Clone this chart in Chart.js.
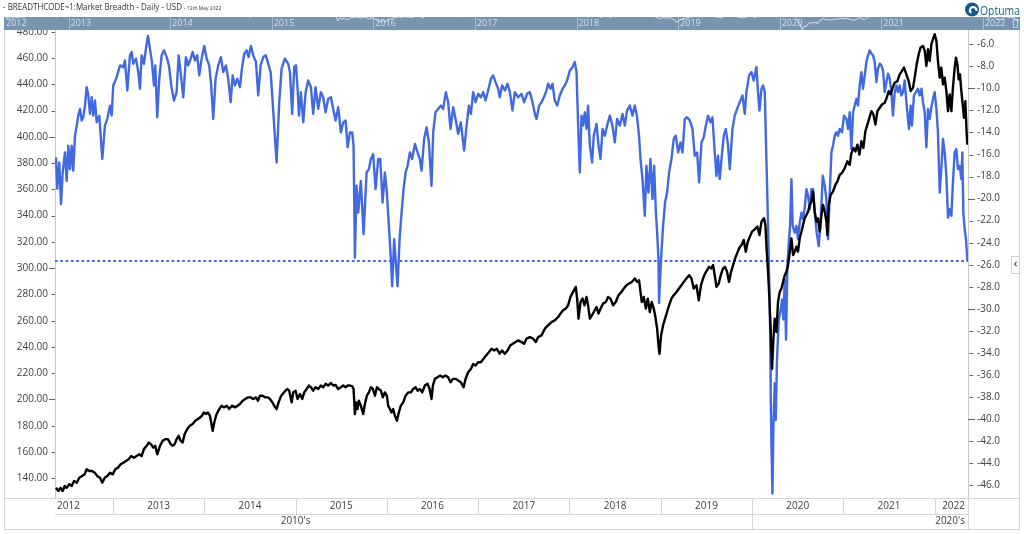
<!DOCTYPE html>
<html>
<head>
<meta charset="utf-8">
<title>Market Breadth</title>
<script src="https://cdn.jsdelivr.net/npm/chart.js@4.4.1/dist/chart.umd.min.js"></script>
<style>
  html, body { margin: 0; padding: 0; background: #fff; }
  body { width: 1024px; height: 534px; position: relative; overflow: hidden; }
  #mainChart { position: absolute; left: 0; top: 0; }
  #navChart { position: absolute; left: 4px; top: 17px; }
</style>
</head>
<body>
<canvas id="mainChart" width="1024" height="534"></canvas>
<canvas id="navChart" width="1016" height="13"></canvas>
<script>
// data (dates as decimal years)
const blueDates = [
  2012.376, 2012.390, 2012.412, 2012.431, 2012.449, 2012.474, 2012.493, 2012.511, 2012.529, 2012.548,
  2012.565, 2012.584, 2012.603, 2012.620, 2012.639, 2012.657, 2012.675, 2012.693, 2012.712, 2012.730,
  2012.748, 2012.767, 2012.784, 2012.803, 2012.822, 2012.850, 2012.883, 2012.912, 2012.938, 2012.967,
  2012.986, 2013.003, 2013.041, 2013.077, 2013.113, 2013.131, 2013.157, 2013.186, 2013.205, 2013.222,
  2013.252, 2013.277, 2013.296, 2013.314, 2013.339, 2013.361, 2013.383, 2013.405, 2013.427, 2013.449,
  2013.463, 2013.485, 2013.507, 2013.533, 2013.558, 2013.588, 2013.613, 2013.638, 2013.668, 2013.697,
  2013.719, 2013.741, 2013.770, 2013.799, 2013.824, 2013.851, 2013.873, 2013.898, 2013.923, 2013.945,
  2013.971, 2014.000, 2014.026, 2014.054, 2014.076, 2014.098, 2014.124, 2014.153, 2014.182, 2014.208,
  2014.237, 2014.262, 2014.289, 2014.311, 2014.336, 2014.361, 2014.391, 2014.412, 2014.438, 2014.464,
  2014.486, 2014.511, 2014.536, 2014.566, 2014.591, 2014.617, 2014.646, 2014.675, 2014.700, 2014.727,
  2014.749, 2014.792, 2014.821, 2014.847, 2014.883, 2014.919, 2014.938, 2014.963, 2014.985, 2015.004,
  2015.022, 2015.037, 2015.058, 2015.084, 2015.110, 2015.138, 2015.168, 2015.193, 2015.219, 2015.248,
  2015.277, 2015.303, 2015.329, 2015.357, 2015.387, 2015.412, 2015.438, 2015.467, 2015.496, 2015.522,
  2015.548, 2015.570, 2015.595, 2015.620, 2015.635, 2015.650, 2015.668, 2015.686, 2015.715, 2015.745,
  2015.778, 2015.803, 2015.825, 2015.850, 2015.876, 2015.905, 2015.927, 2015.953, 2015.978, 2016.000,
  2016.022, 2016.044, 2016.058, 2016.080, 2016.095, 2016.117, 2016.139, 2016.161, 2016.183, 2016.205,
  2016.227, 2016.252, 2016.277, 2016.307, 2016.336, 2016.361, 2016.380, 2016.408, 2016.435, 2016.460,
  2016.489, 2016.507, 2016.533, 2016.562, 2016.591, 2016.616, 2016.646, 2016.671, 2016.697, 2016.726,
  2016.752, 2016.781, 2016.810, 2016.846, 2016.873, 2016.898, 2016.920, 2016.945, 2016.971, 2017.000,
  2017.029, 2017.054, 2017.081, 2017.109, 2017.139, 2017.164, 2017.190, 2017.219, 2017.237, 2017.262,
  2017.292, 2017.322, 2017.347, 2017.376, 2017.401, 2017.438, 2017.475, 2017.503, 2017.536, 2017.566,
  2017.595, 2017.621, 2017.639, 2017.668, 2017.694, 2017.719, 2017.749, 2017.766, 2017.792, 2017.814,
  2017.839, 2017.865, 2017.894, 2017.924, 2017.949, 2017.974, 2018.004, 2018.033, 2018.058, 2018.077,
  2018.095, 2018.113, 2018.132, 2018.149, 2018.168, 2018.187, 2018.204, 2018.223, 2018.248, 2018.266,
  2018.296, 2018.318, 2018.340, 2018.362, 2018.387, 2018.412, 2018.442, 2018.471, 2018.496, 2018.522,
  2018.551, 2018.581, 2018.606, 2018.631, 2018.661, 2018.690, 2018.715, 2018.741, 2018.762, 2018.778,
  2018.800, 2018.825, 2018.843, 2018.865, 2018.887, 2018.909, 2018.927, 2018.945, 2018.960, 2018.975,
  2018.981, 2019.003, 2019.025, 2019.047, 2019.069, 2019.091, 2019.117, 2019.142, 2019.164, 2019.190,
  2019.216, 2019.238, 2019.263, 2019.288, 2019.318, 2019.347, 2019.372, 2019.398, 2019.420, 2019.446,
  2019.471, 2019.493, 2019.518, 2019.544, 2019.566, 2019.591, 2019.610, 2019.627, 2019.646, 2019.665,
  2019.690, 2019.712, 2019.737, 2019.756, 2019.785, 2019.810, 2019.836, 2019.865, 2019.895, 2019.920,
  2019.938, 2019.967, 2019.993, 2020.018, 2020.048, 2020.065, 2020.081, 2020.103, 2020.120, 2020.139,
  2020.157, 2020.168, 2020.183, 2020.197, 2020.204, 2020.212, 2020.223, 2020.234, 2020.248, 2020.259,
  2020.273, 2020.292, 2020.314, 2020.328, 2020.343, 2020.358, 2020.372, 2020.387, 2020.402, 2020.416,
  2020.431, 2020.445, 2020.467, 2020.486, 2020.503, 2020.522, 2020.541, 2020.558, 2020.577, 2020.595,
  2020.613, 2020.632, 2020.650, 2020.668, 2020.686, 2020.708, 2020.730, 2020.752, 2020.774, 2020.796,
  2020.814, 2020.832, 2020.851, 2020.869, 2020.886, 2020.905, 2020.924, 2020.941, 2020.960, 2020.985,
  2021.007, 2021.033, 2021.051, 2021.069, 2021.088, 2021.106, 2021.124, 2021.143, 2021.160, 2021.179,
  2021.197, 2021.215, 2021.234, 2021.252, 2021.270, 2021.288, 2021.307, 2021.325, 2021.343, 2021.362,
  2021.379, 2021.398, 2021.416, 2021.434, 2021.453, 2021.471, 2021.489, 2021.507, 2021.526, 2021.543,
  2021.562, 2021.581, 2021.598, 2021.617, 2021.635, 2021.653, 2021.672, 2021.690, 2021.708, 2021.719,
  2021.737, 2021.751, 2021.773, 2021.795, 2021.817, 2021.836, 2021.855, 2021.872, 2021.891, 2021.909,
  2021.927, 2021.945, 2021.964, 2021.982, 2022.000, 2022.019, 2022.036, 2022.055, 2022.073, 2022.091,
  2022.110, 2022.128, 2022.146, 2022.164, 2022.183, 2022.200, 2022.219, 2022.237, 2022.255, 2022.274,
  2022.292, 2022.303, 2022.314, 2022.329, 2022.343, 2022.358
];
const blueValues = [
  -16.26, -19.11, -16.72, -20.51, -17.63, -15.81, -18.39, -15.20, -17.32, -15.20,
  -17.47, -14.29, -13.38, -12.47, -11.86, -12.92, -12.62, -11.56, -9.89, -10.64,
  -12.31, -10.80, -12.47, -11.10, -13.08, -12.47, -16.41, -13.38, -12.77, -11.56,
  -12.47, -9.73, -8.98, -7.91, -8.07, -7.46, -10.19, -7.00, -6.70, -7.76,
  -7.30, -8.52, -10.03, -7.00, -7.76, -6.39, -5.24, -6.39, -7.61, -9.73,
  -7.91, -12.62, -9.12, -7.00, -6.55, -7.16, -7.91, -9.73, -11.10, -10.34,
  -7.00, -8.52, -10.80, -7.16, -7.91, -7.30, -6.70, -7.46, -7.00, -8.82,
  -7.30, -6.15, -7.30, -7.91, -9.73, -12.77, -9.12, -7.91, -7.16, -8.52,
  -7.91, -9.12, -11.25, -8.82, -9.73, -9.12, -9.89, -8.21, -6.85, -6.55,
  -7.16, -6.15, -7.00, -7.61, -10.64, -7.91, -7.16, -7.00, -7.76, -8.52,
  -11.25, -16.72, -11.25, -8.21, -7.30, -7.76, -8.52, -12.31, -8.07, -7.91,
  -10.03, -12.47, -10.34, -13.08, -10.34, -9.28, -9.89, -12.31, -9.89, -11.86,
  -10.34, -10.80, -12.17, -10.95, -10.80, -11.86, -12.92, -11.71, -13.99, -13.08,
  -12.92, -15.35, -13.99, -13.99, -15.20, -25.37, -18.84, -21.27, -18.39, -23.24,
  -17.63, -17.32, -16.41, -15.95, -19.14, -16.41, -16.41, -20.36, -17.63, -19.45,
  -22.48, -25.52, -27.95, -23.69, -25.52, -27.95, -23.69, -21.27, -19.14, -17.63,
  -17.02, -15.81, -16.41, -15.04, -15.81, -16.41, -17.47, -14.59, -13.53, -14.90,
  -18.84, -13.99, -12.17, -11.86, -11.56, -11.86, -10.34, -11.25, -13.68, -11.71,
  -12.77, -14.13, -13.08, -15.65, -13.38, -11.56, -12.31, -10.34, -11.25, -10.49,
  -10.80, -10.34, -11.10, -10.19, -9.12, -8.82, -9.43, -10.03, -10.80, -9.73,
  -10.19, -9.58, -10.34, -12.01, -10.34, -10.80, -10.49, -11.25, -10.49, -10.34,
  -11.25, -12.31, -12.77, -11.56, -11.25, -10.80, -10.19, -9.58, -10.03, -9.58,
  -11.10, -11.56, -10.64, -10.03, -9.73, -9.28, -8.37, -8.07, -7.61, -8.52,
  -13.38, -17.63, -12.47, -13.38, -12.17, -13.68, -11.56, -15.20, -16.72, -14.29,
  -13.22, -15.20, -16.41, -13.68, -14.29, -13.38, -12.47, -13.38, -14.90, -12.77,
  -13.38, -12.31, -13.38, -12.01, -11.56, -12.47, -11.56, -12.62, -14.29, -16.41,
  -18.23, -21.57, -17.02, -19.45, -16.41, -20.05, -17.02, -20.96, -23.09, -25.52,
  -29.47, -25.52, -22.48, -20.36, -19.45, -17.63, -16.41, -14.59, -14.29, -15.81,
  -14.90, -15.81, -12.77, -12.62, -12.92, -13.68, -16.11, -15.81, -18.54, -14.90,
  -14.44, -13.38, -12.47, -13.08, -12.62, -15.81, -17.93, -16.11, -18.23, -16.41,
  -14.29, -13.68, -15.20, -17.32, -13.68, -12.47, -11.86, -11.25, -10.64, -12.31,
  -10.34, -8.82, -8.52, -9.28, -8.07, -10.34, -12.01, -10.03, -9.73, -10.34,
  -16.41, -20.05, -25.52, -31.59, -37.66, -42.22, -46.77, -40.70, -36.75, -40.09,
  -34.62, -30.98, -30.07, -29.16, -30.98, -27.34, -32.80, -26.13, -24.00, -22.48,
  -18.23, -22.48, -23.09, -22.48, -23.69, -22.18, -21.27, -21.87, -20.82, -19.14,
  -19.75, -20.96, -19.14, -19.14, -21.27, -23.09, -24.31, -21.87, -17.93, -18.84,
  -20.05, -23.69, -19.45, -15.81, -15.20, -14.29, -13.99, -14.29, -13.68, -13.99,
  -12.47, -12.77, -13.68, -12.17, -15.50, -12.17, -11.56, -10.95, -11.56, -9.73,
  -8.52, -10.03, -8.82, -7.61, -7.00, -6.55, -6.85, -7.00, -7.61, -9.43,
  -8.21, -7.76, -7.91, -8.37, -10.34, -9.43, -8.67, -9.12, -10.34, -12.47,
  -10.34, -9.73, -10.34, -9.73, -10.64, -10.34, -9.28, -11.25, -12.77, -13.68,
  -11.56, -13.38, -10.64, -10.34, -10.03, -10.64, -10.03, -11.25, -12.17, -15.35,
  -11.86, -12.77, -11.71, -10.95, -10.34, -11.86, -13.99, -19.45, -17.32, -14.59,
  -15.81, -17.93, -21.73, -20.96, -21.57, -18.54, -15.81, -15.50, -17.32, -17.02,
  -18.23, -15.81, -21.27, -22.78, -23.69, -25.67
];
const blackDates = [
  2012.376, 2012.401, 2012.427, 2012.449, 2012.471, 2012.493, 2012.522, 2012.548, 2012.573, 2012.603,
  2012.631, 2012.661, 2012.690, 2012.712, 2012.741, 2012.770, 2012.800, 2012.828, 2012.858, 2012.883,
  2012.909, 2012.938, 2012.967, 2012.997, 2013.025, 2013.055, 2013.084, 2013.113, 2013.142, 2013.172,
  2013.200, 2013.230, 2013.259, 2013.288, 2013.314, 2013.339, 2013.369, 2013.391, 2013.416, 2013.441,
  2013.463, 2013.485, 2013.515, 2013.544, 2013.573, 2013.602, 2013.632, 2013.654, 2013.676, 2013.697,
  2013.719, 2013.741, 2013.763, 2013.785, 2013.814, 2013.843, 2013.873, 2013.901, 2013.931, 2013.953,
  2013.974, 2013.996, 2014.018, 2014.040, 2014.062, 2014.092, 2014.114, 2014.135, 2014.164, 2014.190,
  2014.215, 2014.245, 2014.273, 2014.303, 2014.336, 2014.365, 2014.391, 2014.420, 2014.449, 2014.478,
  2014.508, 2014.536, 2014.566, 2014.588, 2014.610, 2014.639, 2014.668, 2014.697, 2014.719, 2014.746,
  2014.777, 2014.792, 2014.814, 2014.843, 2014.872, 2014.908, 2014.930, 2014.957, 2014.974, 2015.000,
  2015.022, 2015.048, 2015.073, 2015.095, 2015.121, 2015.146, 2015.168, 2015.193, 2015.219, 2015.248,
  2015.277, 2015.303, 2015.329, 2015.357, 2015.387, 2015.412, 2015.438, 2015.467, 2015.496, 2015.522,
  2015.548, 2015.570, 2015.595, 2015.620, 2015.635, 2015.650, 2015.664, 2015.679, 2015.693, 2015.715,
  2015.741, 2015.759, 2015.781, 2015.803, 2015.825, 2015.847, 2015.869, 2015.891, 2015.912, 2015.934,
  2015.956, 2015.978, 2016.000, 2016.014, 2016.033, 2016.051, 2016.069, 2016.088, 2016.110, 2016.131,
  2016.153, 2016.179, 2016.205, 2016.233, 2016.263, 2016.288, 2016.314, 2016.336, 2016.361, 2016.387,
  2016.416, 2016.446, 2016.468, 2016.489, 2016.504, 2016.526, 2016.555, 2016.584, 2016.613, 2016.643,
  2016.671, 2016.697, 2016.723, 2016.752, 2016.781, 2016.810, 2016.840, 2016.862, 2016.890, 2016.920,
  2016.945, 2016.971, 2017.000, 2017.029, 2017.059, 2017.087, 2017.117, 2017.146, 2017.175, 2017.204,
  2017.234, 2017.262, 2017.292, 2017.322, 2017.350, 2017.380, 2017.409, 2017.438, 2017.475, 2017.503,
  2017.529, 2017.566, 2017.602, 2017.631, 2017.657, 2017.694, 2017.730, 2017.766, 2017.803, 2017.839,
  2017.876, 2017.902, 2017.930, 2017.960, 2017.985, 2018.011, 2018.040, 2018.069, 2018.084, 2018.099,
  2018.121, 2018.143, 2018.165, 2018.187, 2018.204, 2018.223, 2018.245, 2018.266, 2018.296, 2018.318,
  2018.340, 2018.368, 2018.398, 2018.423, 2018.449, 2018.478, 2018.507, 2018.537, 2018.570, 2018.595,
  2018.624, 2018.653, 2018.683, 2018.715, 2018.741, 2018.762, 2018.778, 2018.792, 2018.814, 2018.836,
  2018.858, 2018.880, 2018.901, 2018.923, 2018.938, 2018.960, 2018.975, 2018.986, 2019.003, 2019.025,
  2019.047, 2019.069, 2019.091, 2019.117, 2019.142, 2019.172, 2019.200, 2019.226, 2019.251, 2019.281,
  2019.310, 2019.336, 2019.361, 2019.391, 2019.416, 2019.441, 2019.463, 2019.485, 2019.507, 2019.529,
  2019.551, 2019.573, 2019.591, 2019.610, 2019.635, 2019.657, 2019.682, 2019.704, 2019.726, 2019.748,
  2019.770, 2019.792, 2019.814, 2019.836, 2019.858, 2019.884, 2019.909, 2019.931, 2019.953, 2019.975,
  2020.000, 2020.022, 2020.059, 2020.081, 2020.103, 2020.131, 2020.146, 2020.161, 2020.175, 2020.190,
  2020.204, 2020.219, 2020.234, 2020.248, 2020.267, 2020.284, 2020.303, 2020.322, 2020.339, 2020.358,
  2020.376, 2020.394, 2020.413, 2020.431, 2020.449, 2020.467, 2020.486, 2020.503, 2020.522, 2020.541,
  2020.558, 2020.577, 2020.595, 2020.613, 2020.632, 2020.650, 2020.668, 2020.686, 2020.705, 2020.722,
  2020.741, 2020.760, 2020.777, 2020.796, 2020.814, 2020.825, 2020.840, 2020.861, 2020.886, 2020.913,
  2020.935, 2020.960, 2020.985, 2021.015, 2021.044, 2021.069, 2021.088, 2021.110, 2021.132, 2021.154,
  2021.176, 2021.197, 2021.219, 2021.241, 2021.263, 2021.285, 2021.307, 2021.329, 2021.351, 2021.373,
  2021.398, 2021.423, 2021.453, 2021.475, 2021.497, 2021.518, 2021.540, 2021.562, 2021.592, 2021.617,
  2021.642, 2021.664, 2021.690, 2021.715, 2021.737, 2021.763, 2021.781, 2021.803, 2021.825, 2021.846,
  2021.872, 2021.891, 2021.909, 2021.927, 2021.945, 2021.964, 2021.982, 2022.000, 2022.019, 2022.036,
  2022.055, 2022.073, 2022.091, 2022.110, 2022.128, 2022.146, 2022.164, 2022.183, 2022.200, 2022.219,
  2022.233, 2022.249, 2022.263, 2022.277, 2022.292, 2022.307, 2022.321, 2022.336, 2022.351, 2022.358
];
const blackValues = [
  132.8, 130.3, 132.8, 130.3, 134.1, 132.8, 135.4, 134.1, 137.9, 136.6,
  140.4, 141.7, 143.0, 146.9, 145.6, 145.6, 144.3, 141.7, 140.4, 136.6,
  140.4, 141.7, 144.3, 143.0, 146.9, 148.1, 150.7, 151.9, 153.2, 154.5,
  157.0, 155.7, 157.0, 158.3, 157.0, 162.2, 164.7, 167.2, 166.0, 163.4,
  164.7, 158.3, 164.7, 168.5, 169.8, 169.8, 166.0, 164.7, 166.0, 169.8,
  172.3, 168.5, 167.2, 173.6, 177.5, 180.0, 181.3, 183.8, 185.1, 186.3,
  187.6, 190.1, 188.9, 190.1, 187.6, 176.2, 183.8, 188.9, 192.7, 195.3,
  194.0, 195.3, 192.7, 195.3, 194.0, 195.3, 196.6, 199.1, 200.4, 201.6,
  201.6, 200.4, 201.6, 199.1, 202.9, 202.9, 201.6, 201.6, 200.4, 197.8,
  194.0, 192.7, 197.8, 202.9, 205.4, 208.0, 206.7, 197.8, 205.4, 206.7,
  200.4, 204.2, 200.4, 205.4, 208.0, 210.6, 209.3, 206.7, 209.3, 208.0,
  210.6, 209.3, 211.9, 210.6, 212.6, 210.6, 211.1, 208.0, 209.3, 210.6,
  209.3, 210.6, 210.6, 210.1, 208.0, 188.9, 197.8, 192.7, 199.1, 195.3,
  188.9, 196.6, 202.9, 205.4, 209.3, 208.0, 202.9, 209.3, 208.0, 206.7,
  201.6, 205.4, 202.9, 195.3, 192.7, 190.1, 192.7, 187.6, 183.8, 190.1,
  195.3, 197.8, 202.9, 205.4, 205.4, 208.0, 209.3, 206.7, 208.0, 205.4,
  210.6, 211.9, 208.0, 200.4, 210.6, 215.7, 216.9, 218.2, 216.9, 218.2,
  216.9, 213.1, 215.7, 215.7, 214.4, 213.1, 209.3, 215.7, 220.7, 223.3,
  227.1, 225.8, 228.4, 228.4, 231.0, 233.5, 236.0, 238.6, 237.3, 238.6,
  234.8, 237.3, 234.8, 237.3, 241.1, 242.4, 243.7, 245.0, 243.7, 242.4,
  246.3, 247.5, 246.3, 243.7, 247.5, 248.8, 253.9, 256.4, 258.9, 260.2,
  262.8, 265.4, 267.9, 269.2, 271.7, 278.1, 281.9, 285.7, 276.8, 261.5,
  274.2, 276.8, 271.7, 278.1, 271.7, 261.5, 264.1, 266.6, 270.4, 265.4,
  269.2, 273.0, 274.2, 278.1, 276.8, 271.7, 274.2, 279.4, 281.9, 284.5,
  287.0, 288.3, 289.5, 292.1, 289.5, 290.8, 281.9, 274.2, 278.1, 269.2,
  276.8, 266.6, 274.2, 269.2, 264.1, 253.9, 241.1, 234.8, 248.8, 256.4,
  261.5, 266.6, 271.7, 276.8, 279.4, 281.9, 284.5, 287.0, 289.5, 292.1,
  294.6, 292.1, 284.5, 287.0, 275.5, 287.0, 292.1, 295.9, 298.5, 301.0,
  299.8, 302.3, 294.6, 285.7, 288.3, 294.6, 299.8, 301.0, 297.2, 289.5,
  297.2, 302.3, 307.4, 311.2, 315.1, 317.6, 321.4, 312.5, 320.1, 323.9,
  327.8, 329.1, 331.6, 325.2, 335.4, 338.0, 332.9, 312.5, 297.2, 276.8,
  251.3, 223.3, 246.3, 261.5, 251.3, 274.2, 281.9, 284.5, 289.5, 294.6,
  297.2, 302.3, 312.5, 322.7, 309.9, 312.5, 316.3, 312.5, 322.7, 327.8,
  332.9, 338.0, 340.5, 343.0, 348.2, 350.7, 358.3, 343.0, 335.4, 338.0,
  327.8, 340.5, 348.2, 343.0, 335.4, 325.2, 348.2, 355.8, 358.3, 363.5,
  366.0, 371.1, 372.4, 376.2, 381.3, 378.7, 387.7, 391.5, 388.9, 394.0,
  386.4, 396.6, 391.5, 404.2, 409.3, 414.4, 419.5, 417.0, 409.3, 419.5,
  422.1, 424.6, 425.9, 429.7, 434.8, 432.3, 437.4, 441.2, 442.4, 447.5,
  450.1, 452.7, 447.5, 442.4, 434.8, 437.4, 445.0, 455.2, 462.8, 468.0,
  469.2, 465.4, 453.9, 466.7, 457.7, 470.5, 474.3, 478.1, 473.0, 457.7,
  445.0, 452.7, 439.9, 445.0, 434.8, 419.5, 432.3, 419.5, 437.4, 452.7,
  460.3, 455.2, 443.7, 447.5, 434.8, 424.6, 414.4, 427.1, 401.7, 394.0
];
const leftTicks = [140, 160, 180, 200, 220, 240, 260, 280, 300, 320, 340, 360, 380, 400, 420, 440, 460, 480];
const rightTicks = [-46, -44, -42, -40, -38, -36, -34, -32, -30, -28, -26, -24, -22, -20, -18, -16, -14, -12, -10, -8, -6];
const yearLabels = ['2012', '2013', '2014', '2015', '2016', '2017', '2018', '2019', '2020', '2021', '2022'];
const decadeLabels = ["2010's", "2020's"];

const xMin = 2012.365;
const xMax = 2022.365;

function toPoints(dates, values) {
    return dates.map((d, i) => ({ x: d, y: values[i] }));
}

function init() {
    const FONT = '"Open Sans", "DejaVu Sans", sans-serif';
    const lastBlue = blueValues[blueValues.length - 1];

    // frame, header, date band, tick marks
    const framePlugin = {
        id: 'frame',
        afterDraw(chart) {
            const ctx = chart.ctx;
            const area = chart.chartArea;
            const xs = chart.scales.x;
            const hline = (x1, x2, y) => { ctx.beginPath(); ctx.moveTo(x1, y); ctx.lineTo(x2, y); ctx.stroke(); };
            const vline = (x, y1, y2) => { ctx.beginPath(); ctx.moveTo(x, y1); ctx.lineTo(x, y2); ctx.stroke(); };
            ctx.save();

            // header
            ctx.fillStyle = '#333333';
            ctx.textAlign = 'left';
            ctx.textBaseline = 'alphabetic';
            ctx.font = '9px ' + FONT;
            ctx.fillText('- BREADTHCODE~1:Market Breadth - Daily - USD', 3, 10, 179);
            ctx.font = '5px ' + FONT;
            ctx.fillText('- 12th May 2022', 184, 10, 50);

            // logo
            ctx.fillStyle = '#14578a';
            ctx.beginPath(); ctx.arc(972, 9.5, 7, 0, Math.PI * 2); ctx.fill();
            ctx.strokeStyle = '#ffffff';
            ctx.lineWidth = 2.2;
            ctx.beginPath(); ctx.arc(973.2, 10.3, 3.3, Math.PI * 0.7, Math.PI * 2.05); ctx.stroke();
            ctx.fillStyle = '#1c5f90';
            ctx.font = '13px ' + FONT;
            ctx.fillText('Optuma', 980, 14.5, 40);

            // outer frame and date rows
            ctx.strokeStyle = '#d6d6d6';
            ctx.lineWidth = 1;
            const rowTop = area.bottom;
            const rowMid = area.bottom + 16;
            const rowEnd = 529;
            hline(4, 1020, rowTop + 0.5);
            hline(area.left, area.right, rowMid + 0.5);
            hline(4, 1020, rowEnd + 0.5);
            vline(4.5, 17, rowEnd);
            vline(1019.5, 17, rowEnd);
            vline(Math.round(area.right) + 0.5, rowTop, rowEnd);

            ctx.fillStyle = '#404040';
            ctx.font = '10px ' + FONT;
            ctx.textAlign = 'center';
            ctx.textBaseline = 'middle';
            yearLabels.forEach(label => {
                const yr = Number(label);
                const px = xs.getPixelForValue(yr);
                if (px > area.left && px < area.right) vline(Math.round(px) + 0.5, rowTop, rowMid);
                const w = ctx.measureText(label).width;
                let cx = xs.getPixelForValue(yr + 0.5);
                cx = Math.max(area.left + w / 2 + 2, Math.min(area.right - w / 2 - 3, cx));
                ctx.fillText(label, cx, rowTop + 8.5);
            });
            decadeLabels.forEach(label => {
                const start = Number(label.slice(0, 4));
                const px = xs.getPixelForValue(start);
                if (px > area.left && px < area.right) vline(Math.round(px) + 0.5, rowMid, rowEnd);
                const w = ctx.measureText(label).width;
                let cx = xs.getPixelForValue(start + 5);
                cx = Math.max(area.left + w / 2 + 2, Math.min(area.right - w / 2 - 3, cx));
                ctx.fillText(label, cx, rowMid + 7.5);
            });

            // axis tick marks
            ctx.strokeStyle = '#666666';
            const ly = chart.scales.y;
            ly.ticks.forEach(t => {
                const py = Math.round(ly.getPixelForValue(t.value)) + 0.5;
                hline(t.value % 100 === 0 ? area.left - 6 : area.left - 3.5, area.left, py);
            });
            const ry = chart.scales.y1;
            ry.ticks.forEach(t => {
                const py = Math.round(ry.getPixelForValue(t.value)) + 0.5;
                if (t.value % 10 === 0) hline(area.right, area.right + 7, py);
                else hline(area.right + 1.5, area.right + 5, py);
            });

            // side handle
            ctx.fillStyle = '#ffffff';
            ctx.strokeStyle = '#cfcfcf';
            ctx.fillRect(1011, 256, 8, 17);
            ctx.strokeRect(1011.5, 256.5, 8, 17);
            ctx.fillStyle = '#555555';
            ctx.font = 'bold 10px ' + FONT;
            ctx.fillText('\u2039', 1015.5, 264);
            ctx.restore();
        }
    };

    // main chart
    new Chart(document.getElementById('mainChart').getContext('2d'), {
        type: 'line',
        data: {
            datasets: [
                {
                    label: 'Index',
                    data: toPoints(blackDates, blackValues),
                    yAxisID: 'y',
                    borderColor: '#000000',
                    borderWidth: 2.4,
                    borderJoinStyle: 'round'
                },
                {
                    label: 'Market Breadth',
                    data: toPoints(blueDates, blueValues),
                    yAxisID: 'y1',
                    borderColor: '#4169e1',
                    borderWidth: 2.4,
                    borderJoinStyle: 'round'
                },
                {
                    label: 'Last',
                    data: [{ x: xMin, y: lastBlue }, { x: xMax, y: lastBlue }],
                    yAxisID: 'y1',
                    borderColor: '#4169e1',
                    borderWidth: 2,
                    borderDash: [2.7, 2.6]
                }
            ]
        },
        options: {
            responsive: false,
            devicePixelRatio: 1,
            animation: false,
            layout: { padding: { left: 4, right: 4, top: 30, bottom: 36 } },
            elements: { point: { radius: 0 }, line: { tension: 0 } },
            plugins: { legend: { display: false }, tooltip: { enabled: false } },
            scales: {
                x: { type: 'linear', min: xMin, max: xMax, display: false },
                y: {
                    position: 'left',
                    min: 125.0,
                    max: 481.3,
                    afterBuildTicks: (axis) => { axis.ticks = leftTicks.map(v => ({ value: v })); },
                    afterFit: (axis) => { axis.width = 51; },
                    grid: { display: false, drawTicks: false },
                    border: { display: true, color: '#c8c8c8', width: 1 },
                    ticks: {
                        padding: 7,
                        autoSkip: false,
                        color: '#404040',
                        font: { family: FONT, size: 10 },
                        callback: (v) => Number(v).toFixed(2)
                    }
                },
                y1: {
                    position: 'right',
                    min: -47.17,
                    max: -4.70,
                    afterBuildTicks: (axis) => { axis.ticks = rightTicks.map(v => ({ value: v })); },
                    afterFit: (axis) => { axis.width = 52; },
                    grid: { display: false, drawTicks: false },
                    border: { display: true, color: '#c8c8c8', width: 1 },
                    ticks: {
                        padding: 9,
                        autoSkip: false,
                        color: '#404040',
                        font: { family: FONT, size: 10 },
                        callback: (v) => Number(v).toFixed(1)
                    }
                }
            }
        },
        plugins: [framePlugin]
    });

    // navigator strip
    const navPlugin = {
        id: 'navBand',
        beforeDatasetsDraw(chart) {
            const ctx = chart.ctx;
            const xs = chart.scales.x;
            ctx.save();
            ctx.fillStyle = '#7794b0';
            ctx.fillRect(0, 0, chart.width, chart.height);
            ctx.strokeStyle = '#a7bbcf';
            ctx.lineWidth = 1;
            ctx.fillStyle = '#d5dfe9';
            ctx.font = '9px ' + FONT;
            ctx.textBaseline = 'middle';
            yearLabels.forEach(label => {
                const px = xs.getPixelForValue(Number(label));
                if (px > 0) {
                    ctx.beginPath();
                    ctx.moveTo(Math.round(px) + 0.5, 0);
                    ctx.lineTo(Math.round(px) + 0.5, chart.height);
                    ctx.stroke();
                }
                ctx.fillText(label, Math.max(px + 2, 2), 6.5);
            });
            ctx.strokeStyle = '#c3d1de';
            ctx.strokeRect(chart.width - 6.5, 2.5, 4, 8);
            ctx.restore();
        }
    };

    new Chart(document.getElementById('navChart').getContext('2d'), {
        type: 'line',
        data: {
            datasets: [{
                data: toPoints(blueDates, blueValues),
                borderColor: 'rgba(255,255,255,0.7)',
                borderWidth: 1
            }]
        },
        options: {
            responsive: false,
            devicePixelRatio: 1,
            animation: false,
            layout: { padding: 0 },
            elements: { point: { radius: 0 } },
            plugins: { legend: { display: false }, tooltip: { enabled: false } },
            scales: {
                x: { type: 'linear', min: xMin, max: xMax, display: false },
                y: { min: -47.5, max: -16, display: false }
            }
        },
        plugins: [navPlugin]
    });
}

document.addEventListener('DOMContentLoaded', function() {
    if (document.fonts && document.fonts.load) {
        document.fonts.load('10px "Open Sans"').then(init, init);
    } else {
        init();
    }
});
</script>
</body>
</html>
